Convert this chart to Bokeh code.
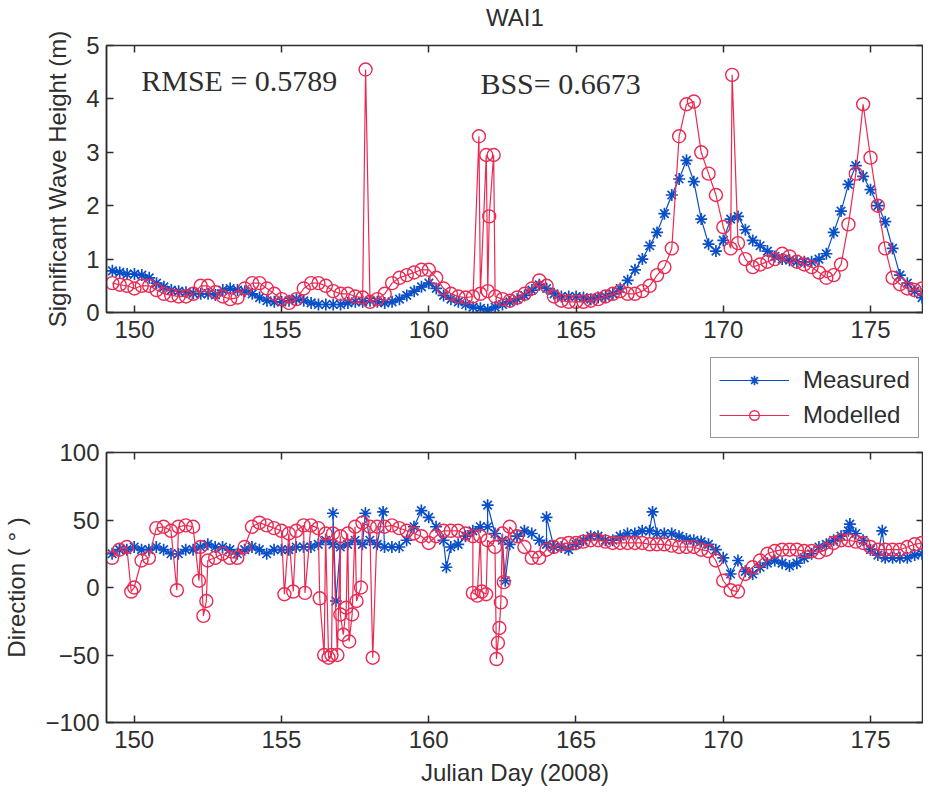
import numpy as np
from bokeh.plotting import figure
from bokeh.models import Range1d, LinearAxis, Label, Legend, LegendItem, FixedTicker
from bokeh.layouts import column
from bokeh.embed import file_html
from bokeh.resources import INLINE

# ---------------- data ----------------
# sampling grid: Julian day 149.25 ... 177.0 every 0.25 day
day_grid = np.arange(149.25, 177.01, 0.25)

hs_measured = [
    0.78, 0.75, 0.72,
    0.72, 0.70, 0.65, 0.55,   # 150
    0.48, 0.42, 0.40, 0.38,   # 151
    0.36, 0.35, 0.35, 0.33,   # 152
    0.42, 0.45, 0.42, 0.40,   # 153
    0.35, 0.28, 0.22, 0.20,   # 154
    0.20, 0.22, 0.25, 0.22,   # 155
    0.18, 0.15, 0.15, 0.15,   # 156
    0.15, 0.18, 0.20, 0.20,   # 157
    0.22, 0.20, 0.18, 0.20,   # 158
    0.25, 0.32, 0.40, 0.48,   # 159
    0.55, 0.45, 0.32, 0.25,   # 160
    0.20, 0.15, 0.10, 0.08,   # 161
    0.05, 0.10, 0.15, 0.20,   # 162
    0.25, 0.32, 0.42, 0.52,   # 163
    0.45, 0.35, 0.30, 0.30,   # 164
    0.30, 0.28, 0.25, 0.28,   # 165
    0.30, 0.35, 0.45, 0.60,   # 166
    0.80, 1.00, 1.25, 1.50,   # 167
    1.85, 2.20, 2.50, 2.85,   # 168
    2.45, 1.75, 1.28, 1.15,   # 169
    1.35, 1.75, 1.80, 1.55,   # 170
    1.35, 1.25, 1.15, 1.05,   # 171
    1.00, 0.98, 0.95, 0.95,   # 172
    0.95, 1.00, 1.10, 1.50,   # 173
    1.90, 2.40, 2.75, 2.55,   # 174
    2.30, 2.00, 1.70, 1.20,   # 175
    0.70, 0.55, 0.40, 0.28,   # 176
    0.15,                     # 177
]

hs_modelled = [
    0.55, 0.52, 0.50,
    0.45, 0.50, 0.50, 0.42,   # 150
    0.35, 0.32, 0.30, 0.30,   # 151
    0.35, 0.50, 0.50, 0.38,   # 152
    0.30, 0.25, 0.28, 0.45,   # 153
    0.55, 0.55, 0.45, 0.35,   # 154
    0.25, 0.18, 0.25, 0.45,   # 155
    0.55, 0.55, 0.50, 0.40,   # 156
    0.35, 0.35, 0.30, 0.28,   # 157
    0.20, 0.25, 0.35, 0.55,   # 158
    0.65, 0.70, 0.75, 0.80,   # 159
    0.80, 0.65, 0.45, 0.35,   # 160
    0.30, 0.28, 0.30, 0.35,   # 161
    0.40, 0.30, 0.25, 0.22,   # 162
    0.28, 0.35, 0.45, 0.60,   # 163
    0.50, 0.30, 0.22, 0.20,   # 164
    0.20, 0.20, 0.22, 0.25,   # 165
    0.30, 0.35, 0.40, 0.35,   # 166
    0.35, 0.40, 0.50, 0.70,   # 167
    0.85, 1.20, 3.30, 3.90,   # 168
    3.95, 3.00, 2.60, 2.20,   # 169
    1.60, 1.20, 1.30, 1.00,   # 170
    0.85, 0.90, 0.95, 1.00,   # 171
    1.10, 1.05, 0.95, 0.90,   # 172
    0.85, 0.75, 0.65, 0.70,   # 173
    0.90, 1.65, 2.60, 3.90,   # 174
    2.90, 2.00, 1.20, 0.65,   # 175
    0.53, 0.45, 0.42, 0.45,   # 176
    0.55,                     # 177
]

# isolated modelled Hs spikes
hs_spike_day = [157.85, 161.70, 161.95, 162.05, 162.20, 170.30]
hs_spike_val = [4.55, 3.30, 2.95, 1.80, 2.95, 4.45]

dir_measured = [
    25, 28, 28,
    30, 28, 28, 30,   # 150
    28, 25, 25, 28,   # 151
    28, 30, 32, 30,   # 152
    30, 28, 25, 28,   # 153
    30, 28, 25, 28,   # 154
    28, 28, 30, 30,   # 155
    30, 32, 35, 32,   # 156
    30, 32, 35, 32,   # 157
    35, 32, 30, 30,   # 158
    30, 35, 45, 57,   # 159
    52, 45, 35, 30,   # 160
    32, 38, 42, 45,   # 161
    45, 40, 35, 32,   # 162
    38, 42, 40, 35,   # 163
    32, 30, 30, 28,   # 164
    32, 35, 38, 38,   # 165
    35, 35, 38, 40,   # 166
    40, 42, 42, 40,   # 167
    40, 40, 38, 36,   # 168
    35, 34, 32, 28,   # 169
    22, 10, 20, 12,   # 170
    10, 15, 18, 20,   # 171
    18, 16, 18, 22,   # 172
    25, 30, 32, 35,   # 173
    38, 42, 40, 35,   # 174
    28, 24, 22, 22,   # 175
    22, 22, 24, 25,   # 176
    28,               # 177
]
dir_meas_extra_day = [156.75, 156.85, 157.85, 158.45, 160.6, 162.0, 162.6, 164.0, 167.6, 174.3, 175.4]
dir_meas_extra_val = [55, -10, 55, 56, 15, 61, 5, 52, 56, 47, 42]

dir_modelled = [
    22, 28, 30,
    0, 20, 22, 44,    # 150
    45, 42, 45, 46,   # 151
    45, 30, 20, 22,   # 152
    25, 22, 22, 30,   # 153
    45, 48, 46, 44,   # 154
    42, 40, 42, 46,   # 155
    46, 44, 40, 40,   # 156
    38, 40, 45, 48,   # 157
    45, 45, 45, 46,   # 158
    44, 42, 40, 38,   # 159
    33, 38, 42, 42,   # 160
    42, 40, 38, 38,   # 161
    35, 30, 40, 45,   # 162
    38, 30, 22, 22,   # 163
    28, 30, 32, 33,   # 164
    33, 34, 35, 35,   # 165
    34, 33, 33, 33,   # 166
    33, 33, 32, 32,   # 167
    32, 31, 30, 30,   # 168
    30, 28, 27, 20,   # 169
    5, -2, -3, 10,    # 170
    15, 20, 25, 27,   # 171
    28, 28, 28, 27,   # 172
    27, 26, 28, 33,   # 173
    35, 35, 34, 33,   # 174
    30, 28, 28, 28,   # 175
    28, 30, 32, 33,   # 176
    35,               # 177
]
dir_mod_extra_day = [149.9, 151.45, 152.2, 152.35, 152.45, 155.1, 155.4, 155.8, 156.3, 156.45,
                     156.6, 156.7, 156.9, 157.0, 157.1, 157.2, 157.3, 157.4, 157.55, 157.7,
                     158.1, 161.5, 161.65, 161.8, 161.95, 162.3, 162.35, 162.4, 162.45, 162.55]
dir_mod_extra_val = [-3, -2, 5, -21, -10, -5, -3, -4, -8, -50,
                     -52, -50, -50, -20, -35, -15, -40, -20, -10, 0,
                     -52, -4, -6, -3, -5, -53, -41, -30, -11, 4]

x_ticks = [150, 155, 160, 165, 170, 175]
hs_ticks = [0, 1, 2, 3, 4, 5]
dir_ticks = [-100, -50, 0, 50, 100]

series_names = ["Measured", "Modelled"]
stats_text = ["RMSE = 0.5789", "BSS= 0.6673"]
title_text = "WAI1"


def merge(d1, v1, d2, v2):
    d = np.concatenate([np.asarray(d1, float), np.asarray(d2, float)])
    v = np.concatenate([np.asarray(v1, float), np.asarray(v2, float)])
    o = np.argsort(d, kind="stable")
    return d[o], v[o]


BLUE = "#0a4fc8"
RED = "#ea2a52"
INK = "#2e2e2e"
FONT = "Liberation Sans"
MEAS_STYLE = dict(marker="asterisk", size=12, line_color=BLUE, line_width=1.7)
MOD_STYLE = dict(marker="circle", size=13, fill_color=None, line_color=RED, line_width=1.4)


def style(p, ticks_y, top_label=None):
    p.xgrid.visible = False
    p.ygrid.visible = False
    p.outline_line_color = INK
    p.outline_line_width = 1.5
    p.outline_line_alpha = 1.0
    p.background_fill_color = "white"
    p.border_fill_color = "white"
    for ax in p.xaxis + p.yaxis:
        ax.major_tick_in = 7
        ax.major_tick_out = 0
        ax.minor_tick_line_color = None
        ax.axis_line_color = INK
        ax.axis_line_width = 1.5
        ax.major_tick_line_color = INK
        ax.major_tick_line_width = 1.5
        ax.major_label_text_font = FONT
        ax.major_label_text_font_size = "24px"
        ax.major_label_text_color = INK
        ax.axis_label_text_font = FONT
        ax.axis_label_text_font_size = "24px"
        ax.axis_label_text_font_style = "normal"
        ax.axis_label_text_color = INK
    p.xaxis.ticker = FixedTicker(ticks=x_ticks)
    p.yaxis.ticker = FixedTicker(ticks=ticks_y)
    p.xaxis.major_label_standoff = 8
    p.yaxis.major_label_standoff = 7
    for loc, tk in (("above", x_ticks), ("right", ticks_y)):
        ax = LinearAxis(ticker=FixedTicker(ticks=tk), major_tick_in=7, major_tick_out=0,
                        major_tick_line_color=INK, major_tick_line_width=1.5,
                        minor_tick_line_color=None, axis_line_color=None,
                        major_label_overrides={t: "" for t in tk},
                        major_label_standoff=0)
        if loc == "above" and top_label:
            ax.axis_label = top_label
            ax.axis_label_text_font = FONT
            ax.axis_label_text_font_size = "24px"
            ax.axis_label_text_font_style = "normal"
            ax.axis_label_text_color = INK
            ax.axis_label_standoff = 15
        p.add_layout(ax, loc)


# ---------------- top panel: significant wave height ----------------
p1 = figure(width=923, height=352, output_backend="svg", toolbar_location=None,
            x_range=Range1d(149.05, 176.8), y_range=Range1d(0, 5),
            min_border_left=97, min_border_right=0, min_border_top=44, min_border_bottom=40)
p1.yaxis.axis_label = "Significant Wave Height (m)"
p1.yaxis.axis_label_standoff = 12

hs_mod_day, hs_mod_val = merge(day_grid, hs_modelled, hs_spike_day, hs_spike_val)

p1.line(day_grid, hs_measured, line_color=BLUE, line_width=1.2)
p1.scatter(day_grid, hs_measured, **MEAS_STYLE)
p1.line(hs_mod_day, hs_mod_val, line_color=RED, line_width=1.2)
p1.scatter(hs_mod_day, hs_mod_val, **MOD_STYLE)

p1.add_layout(Label(x=150.23, y=4.35, text=stats_text[0], text_font="Liberation Serif",
                    text_font_size="30px", text_color=INK, text_baseline="middle"))
p1.add_layout(Label(x=161.75, y=4.28, text=stats_text[1], text_font="Liberation Serif",
                    text_font_size="30px", text_color=INK, text_baseline="middle"))
style(p1, hs_ticks, top_label=title_text)

# ---------------- legend strip between the panels ----------------
# the series are drawn here outside the visible range, only to feed the legend
pl = figure(width=923, height=86, output_backend="svg", toolbar_location=None,
            x_axis_type=None, y_axis_type=None, min_border=0,
            x_range=Range1d(0, 1), y_range=Range1d(0, 1))
pl.outline_line_color = None
pl.grid.visible = False
lg_l1 = pl.line(day_grid, hs_measured, line_color=BLUE, line_width=1.2)
lg_m1 = pl.scatter(day_grid, hs_measured, **MEAS_STYLE)
lg_l2 = pl.line(hs_mod_day, hs_mod_val, line_color=RED, line_width=1.2)
lg_m2 = pl.scatter(hs_mod_day, hs_mod_val, **MOD_STYLE)
legend = Legend(items=[LegendItem(label=series_names[0], renderers=[lg_l1, lg_m1]),
                       LegendItem(label=series_names[1], renderers=[lg_l2, lg_m2])],
                location=(604, 0), orientation="vertical")
legend.label_text_font = FONT
legend.label_text_font_size = "24px"
legend.label_text_color = INK
legend.border_line_color = INK
legend.border_line_width = 1.5
legend.background_fill_alpha = 1.0
legend.glyph_width = 70
legend.glyph_height = 24
legend.label_height = 24
legend.label_standoff = 14
legend.padding = 8
legend.spacing = 7
legend.margin = 0
pl.add_layout(legend)

# ---------------- bottom panel: direction ----------------
p2 = figure(width=923, height=352, output_backend="svg", toolbar_location=None,
            x_range=Range1d(149.06, 176.8), y_range=Range1d(-100, 100),
            min_border_left=94, min_border_right=0, min_border_top=14, min_border_bottom=68)
p2.xaxis.axis_label = "Julian Day (2008)"
p2.yaxis.axis_label = "Direction ( \u00b0 )"
p2.yaxis.axis_label_standoff = 12
p2.xaxis.axis_label_standoff = 8

dm_day, dm_val = merge(day_grid, dir_measured, dir_meas_extra_day, dir_meas_extra_val)
dd_day, dd_val = merge(day_grid, dir_modelled, dir_mod_extra_day, dir_mod_extra_val)

p2.line(dm_day, dm_val, line_color=BLUE, line_width=1.2)
p2.scatter(dm_day, dm_val, **MEAS_STYLE)
p2.line(dd_day, dd_val, line_color=RED, line_width=1.2)
p2.scatter(dd_day, dd_val, **MOD_STYLE)
style(p2, dir_ticks)

layout = column(p1, pl, p2, spacing=0)
open("out.html", "w").write(file_html(layout, INLINE))
